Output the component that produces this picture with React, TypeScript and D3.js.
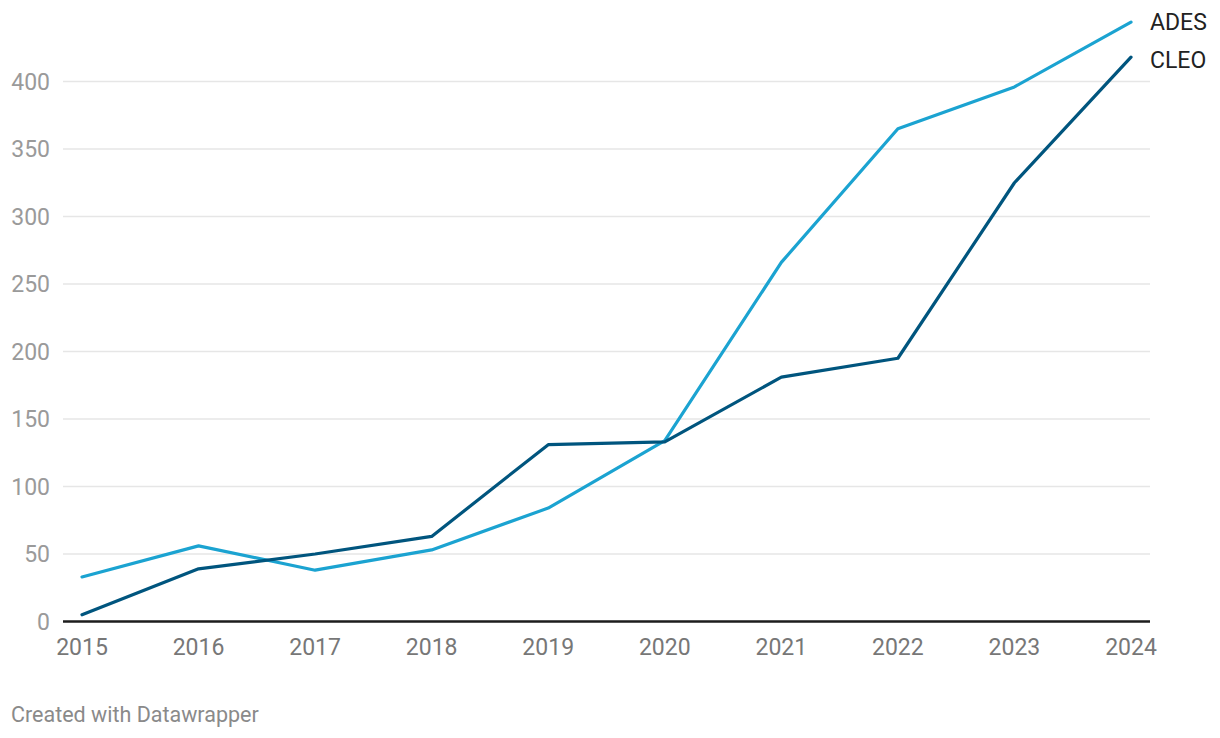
import React from "react";
import * as d3 from "d3";

const years = [2015, 2016, 2017, 2018, 2019, 2020, 2021, 2022, 2023, 2024];
const ades = [33, 56, 38, 53, 84, 134, 266, 365, 396, 444];
const cleo = [5, 39, 50, 63, 131, 133, 181, 195, 325, 418];
const yTicks = [0, 50, 100, 150, 200, 250, 300, 350, 400];
const seriesNames = ["ADES", "CLEO"];
const seriesColors = ["#1ba3d1", "#00557e"];

const W = 1220;
const H = 738;
const FONT = "Roboto, 'Noto Sans', sans-serif";

export default function App() {
  const x = d3.scaleLinear().domain([2015, 2024]).range([82, 1131]);
  const y = d3.scaleLinear().domain([0, 400]).range([621.5, 81.5]);
  const line = d3
    .line<number>()
    .x((_, i) => x(years[i]))
    .y((d) => y(d));

  const series = [ades, cleo];
  const labelYs: number[] = [];
  series.forEach((s, i) => {
    let ly = y(s[s.length - 1]);
    if (i > 0 && ly < labelYs[i - 1] + 38) ly = labelYs[i - 1] + 38;
    labelYs.push(ly);
  });

  return (
    <svg
      width={W}
      height={H}
      style={{ position: "absolute", left: 0, top: 0, display: "block", background: "#fff" }}
      fontFamily={FONT}
    >
      {yTicks.map((t) =>
        t === 0 ? null : (
          <line key={"g" + t} x1={63} x2={1150} y1={y(t)} y2={y(t)} stroke="#e6e6e6" strokeWidth={1.5} />
        )
      )}
      {yTicks.map((t) => (
        <text
          key={"yt" + t}
          x={50}
          y={y(t)}
          dy="0.35em"
          textAnchor="end"
          fontSize={23}
          fill="#9a9a9a"
        >
          {t}
        </text>
      ))}
      {years.map((yr) => (
        <text key={"xt" + yr} x={x(yr)} y={647} dy="0.35em" textAnchor="middle" fontSize={23} fill="#777">
          {yr}
        </text>
      ))}
      {series.map((s, i) => (
        <path
          key={"s" + i}
          d={line(s) || ""}
          fill="none"
          stroke={seriesColors[i]}
          strokeWidth={3.2}
          strokeLinejoin="round"
          strokeLinecap="round"
        />
      ))}
      <line x1={63} x2={1150} y1={y(0)} y2={y(0)} stroke="#1d1d1d" strokeWidth={2.5} />
      {seriesNames.map((n, i) => (
        <text key={"l" + n} x={1150} y={labelYs[i]} dy="0.35em" fontSize={23} fill="#222">
          {n}
        </text>
      ))}
      <text x={11} y={714} dy="0.35em" fontSize={21.5} fill="#8a8a8a">
        Created with Datawrapper
      </text>
    </svg>
  );
}
